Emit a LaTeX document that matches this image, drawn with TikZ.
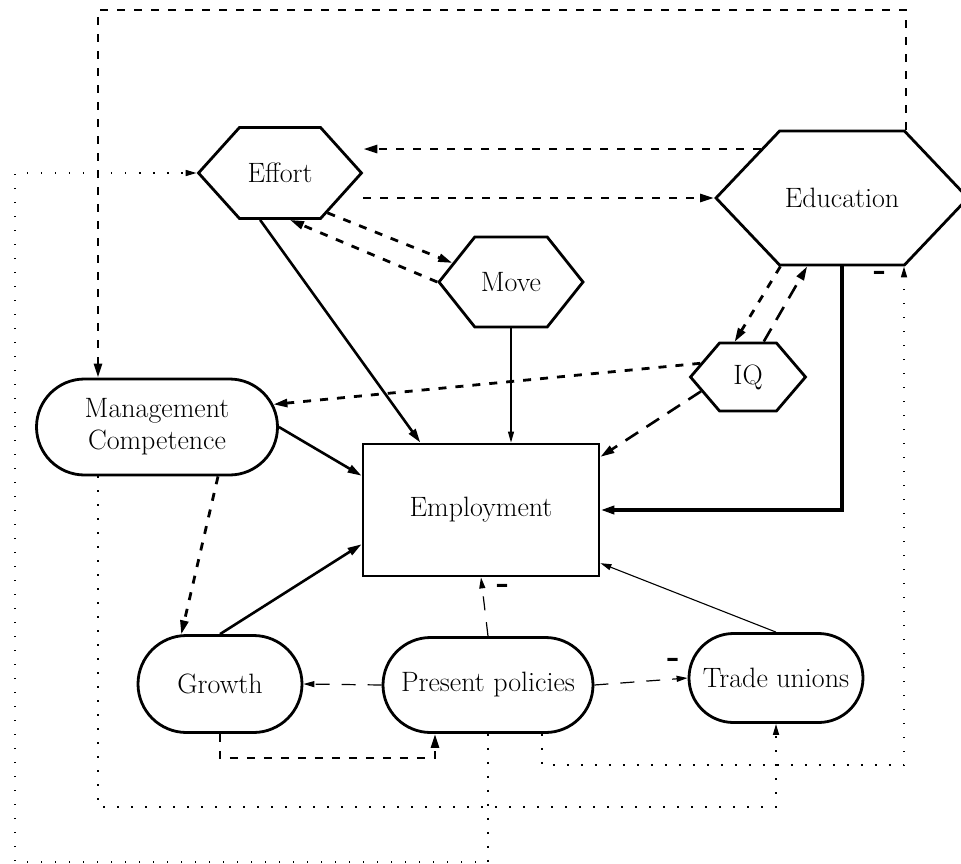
\documentclass[tikz,border=0pt]{standalone}
\usetikzlibrary{arrows.meta, shapes.symbols, shapes.misc, calc}
\tikzset{
  every picture/.style={line width=2.8pt},
  hexa/.style={signal, signal to=east and west, signal pointer angle=#1, draw, inner sep=0pt},
  hexa/.default=96,
  pill/.style={rounded rectangle, draw, align=center, inner sep=0pt},
  bigtip/.style={-{Triangle[length=14pt, width=8pt]}},
  smalltip/.style={-{Triangle[length=11pt, width=6pt]}},
  heavy/.style={bigtip, line width=2.8pt, dash pattern=on 8pt off 9pt},
  longdash/.style={bigtip, line width=2.6pt, dash pattern=on 15pt off 10pt},
  thindash/.style={smalltip, line width=1.2pt, dash pattern=on 14pt off 12pt},
  strong/.style={bigtip, line width=2.6pt},
  weak/.style={smalltip, line width=1.1pt},
  dotline/.style={smalltip, line width=1.6pt, dash pattern=on 1.6pt off 12.4pt},
  sign/.style={font=\fontsize{34}{34}\selectfont\bfseries, inner sep=0pt},
}

\begin{document}
\begin{tikzpicture}[x=1pt, y=-1pt, every node/.append style={font=\fontsize{28}{32}\selectfont}]
  \useasboundingbox (0,0) rectangle (961,864);
  \node[hexa=96, minimum width=163pt, minimum height=91pt] (eff) at (280,173) {Effort};
  \node[hexa=93, minimum width=252pt, minimum height=134pt] (edu) at (842,198) {Education};
  \node[hexa=103, minimum width=144pt, minimum height=90pt] (mov) at (511,282) {Move};
  \node[hexa=99, minimum width=115pt, minimum height=68pt] (iq) at (748,377) {IQ};
  \node[pill, minimum width=241pt, minimum height=96pt] (mc) at (157,427) {Management\\Competence};
  \node[draw, minimum width=236pt, minimum height=132pt] (emp) at (481,510) {Employment};
  \node[pill, minimum width=164pt, minimum height=97pt] (gro) at (220,684) {Growth};
  \node[pill, minimum width=210pt, minimum height=95pt] (pp) at (488,685) {Present policies};
  \node[pill, minimum width=174pt, minimum height=89pt] (tu) at (776,678) {Trade unions};

  \coordinate (colL) at (98,10);
  \coordinate (colR) at (906,10);
  \coordinate (dotR) at (904,765);
  \coordinate (dotB) at (98,807);
  \coordinate (dotBL) at (15,862);
  \coordinate (loopG) at (435,758);

  \draw[heavy] (edu.north -| colR) -- (colR) -- (colL) -- (mc.north -| colL);
  \draw[heavy] (edu.149) -- (edu.149 -| eff.east);
  \draw[heavy] (eff.east |- edu.west) -- (edu.west);
  \draw[heavy] (eff.-40) -- (mov.162);
  \draw[heavy] (mov.west) -- (eff.-78);
  \draw[strong] (eff.-113) -- (emp.132);
  \draw[weak] (mov.south) -- (mov.south |- emp.north);
  \draw[heavy] (iq.164) -- (mc.11);
  \draw[heavy] (edu.-132) -- (iq.111);
  \draw[longdash] (iq.66) -- (edu.-117);
  \draw[longdash] (iq.-163) -- (emp.24);
  \draw[strong, line width=4pt] (edu.south) |- (emp.east);
  \draw[strong] (mc.east) -- (emp.164);
  \draw[heavy] (mc.-39) -- (gro.128);
  \draw[strong] (gro.north) -- (emp.196);
  \draw[thindash] (pp.north) -- (emp.south) node[sign, at end, xshift=22pt, yshift=-12pt] {-};
  \draw[weak] (tu.north) -- (emp.-24);
  \draw[thindash] (pp.west) -- (gro.east);
  \draw[thindash] (pp.east) -- (tu.west) node[sign, at end, xshift=-14pt, yshift=15pt] {-};
  \draw[heavy] (gro.south) |- (loopG) -- (loopG |- pp.south);
  \draw[dotline] ($(pp.south)+(54,0)$) |- (dotR) -- (dotR |- edu.south) node[sign, at end, xshift=-24pt, yshift=-10pt] {-};
  \draw[dotline] (mc.south -| colL) -- (dotB) -| (tu.south);
  \draw[dotline] (pp.south) |- (dotBL) |- (eff.west);
\end{tikzpicture}
\end{document}
